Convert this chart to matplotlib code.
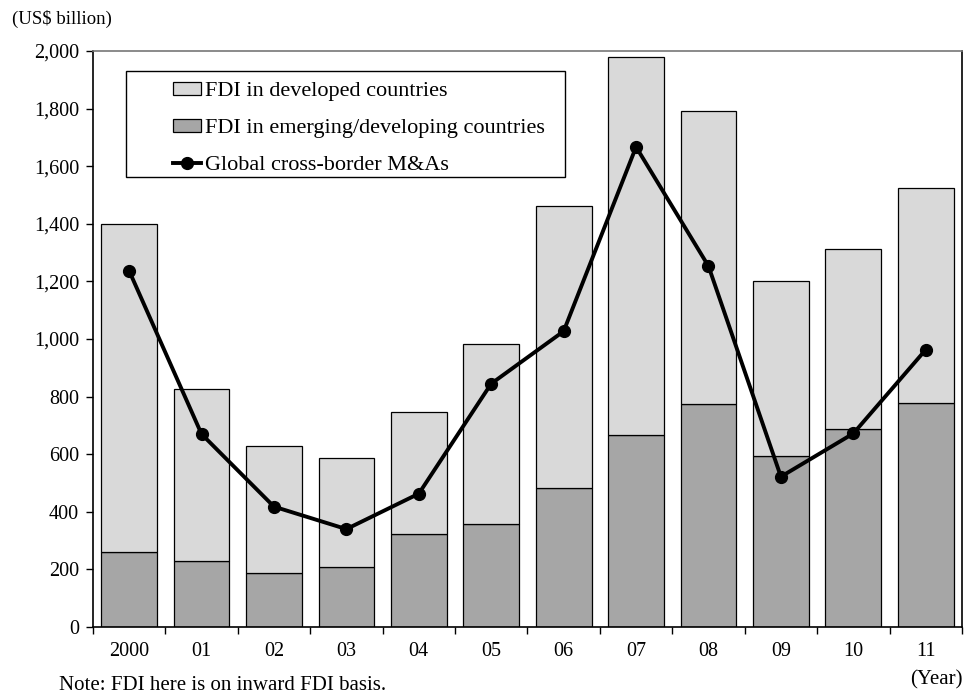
import matplotlib
matplotlib.use("Agg")
import matplotlib.pyplot as plt
from matplotlib.patches import Rectangle
from matplotlib.ticker import FuncFormatter, FixedLocator
import numpy as np

plt.rcParams['font.family'] = ['Liberation Serif', 'DejaVu Serif']

years = ["2000", "01", "02", "03", "04", "05", "06", "07", "08", "09", "10", "11"]
# inward FDI totals and the emerging/developing part (US$ billion)
fdi_total = [1400, 826, 628, 587, 747, 982, 1462, 1978, 1791, 1200, 1311, 1523]
fdi_emerging = [262, 229, 186, 209, 322, 356, 483, 666, 773, 594, 689, 777]
fdi_developed = [t - e for t, e in zip(fdi_total, fdi_emerging)]
cross_border_ma = [1237, 670, 418, 340, 463, 845, 1027, 1667, 1253, 522, 672, 963]

fig = plt.figure(figsize=(9.78, 6.97), dpi=100)
ax = fig.add_axes([0.095, 0.1004, 0.8886, 0.8264])

x = np.arange(len(years))
w = 0.77
b1 = ax.bar(x, fdi_emerging, w, color="#a6a6a6", edgecolor="black", linewidth=0.9,
            label="FDI in emerging/developing countries", zorder=2)
b2 = ax.bar(x, fdi_developed, w, bottom=fdi_emerging, color="#d9d9d9", edgecolor="black",
            linewidth=0.9, label="FDI in developed countries", zorder=2)
ln, = ax.plot(x, cross_border_ma, color="black", linewidth=2.8, marker="o", markersize=8.5,
              label="Global cross-border M&As", zorder=3)

ax.set_xlim(-0.5, len(years) - 0.5)
ax.set_ylim(0, 2000)
ax.set_yticks(range(0, 2001, 200))
ax.yaxis.set_major_formatter(FuncFormatter(lambda v, p: f"{int(v):,}"))
ax.set_xticks(x)
ax.set_xticklabels(years)
ax.xaxis.set_minor_locator(FixedLocator(np.arange(-0.5, len(years), 1.0)))
ax.tick_params(axis="x", which="major", length=0, pad=11, labelsize=14.5)
ax.tick_params(axis="x", which="minor", length=5, width=1, direction="out")
ax.tick_params(axis="y", length=5, width=1, direction="out", labelsize=14.5, pad=5)

for s in ["left", "bottom", "right"]:
    ax.spines[s].set_color("black")
    ax.spines[s].set_linewidth(1.2)
ax.spines["top"].set_color("#777777")
ax.spines["top"].set_linewidth(1.2)

# legend box drawn separately so the entries can sit well inside it
ax.add_patch(Rectangle((0.038, 0.781), 0.505, 0.184, transform=ax.transAxes,
                       facecolor="white", edgecolor="black", linewidth=1.0, zorder=4))
leg = ax.legend([b2, b1, ln],
                ["FDI in developed countries", "FDI in emerging/developing countries",
                 "Global cross-border M&As"],
                loc="upper left", bbox_to_anchor=(0.092, 0.946), fontsize=16,
                frameon=False, handlelength=1.25, handleheight=0.5,
                handletextpad=0.2, borderpad=0, labelspacing=0.8, borderaxespad=0)
leg.set_zorder(5)

fig.text(0.012, 0.973, "(US$ billion)", fontsize=13.5, va="center", ha="left")
fig.text(0.984, 0.024, "(Year)", fontsize=15, va="center", ha="right")
fig.text(0.06, 0.01, "Note: FDI here is on inward FDI basis.", fontsize=15, va="baseline", ha="left")

fig.savefig("out.png", dpi=100)
